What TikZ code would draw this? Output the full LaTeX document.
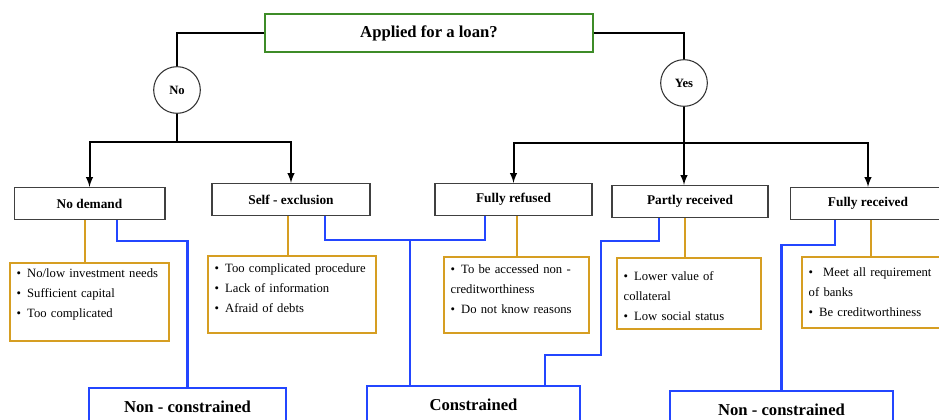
\documentclass[tikz,border=0pt]{standalone}
\usepackage{fontspec}
\setmainfont{Liberation Serif}
\usepackage{tikz}
\definecolor{leaf}{RGB}{62,140,40}
\definecolor{ocre}{RGB}{214,158,34}
\definecolor{azur}{RGB}{35,70,255}
\tikzset{
  question/.style={draw=leaf,line width=1.3pt,minimum width=246pt,minimum height=29pt,font=\fontsize{12.5}{15}\selectfont\bfseries},
  answer/.style={draw=black!80,circle,thick,minimum size=35pt,inner sep=0pt,font=\fontsize{9.5}{11}\selectfont\bfseries},
  group/.style={draw=black!75,line width=1pt,minimum height=24pt,font=\fontsize{10}{12}\selectfont\bfseries},
  reason/.style={draw=ocre,line width=1.6pt,anchor=north west,align=left,inner xsep=5pt,inner ysep=0pt,font=\fontsize{9.5}{15}\selectfont},
  outcome/.style={draw=azur,line width=1.8pt,anchor=north,minimum height=28pt,font=\fontsize{12.5}{15}\selectfont\bfseries},
  branch/.style={line width=1.5pt},
  oline/.style={draw=ocre,line width=1.4pt},
  bline/.style={draw=azur,line width=1.6pt}
}
\newcommand{\itm}{\textbullet\hspace{4.5pt}}
\begin{document}
\begin{tikzpicture}[x=0.75pt,y=-0.75pt]
\useasboundingbox (0,0) rectangle (939,420);
% question and answers
\node[question] (loan) at (429,33) {Applied for a loan?};
\node[answer] (no) at (177,90) {No};
\node[answer] (yes) at (684,83) {Yes};
% groups
\node[group,minimum width=113pt] (nodem) at (89.5,203.5) {No demand};
\node[group,minimum width=118.5pt] (selfex) at (291,199.5) {Self - exclusion};
\node[group,minimum width=117.75pt] (refused) at (513.5,199.5) {Fully refused};
\node[group,minimum width=117pt] (partly) at (690,201.5) {Partly received};
\node[group,minimum width=116pt] (fullrec) at (868,203.5) {Fully received};
% reasons
\node[reason,text width=109pt,text height=10.5pt,text depth=48pt] (r1) at (9,262)
  {\itm No/low investment needs\\ \itm Sufficient capital\\ \itm Too complicated};
\node[reason,text width=116pt,text height=12pt,text depth=45.75pt] (r2) at (207,255)
  {\itm Too complicated procedure\\ \itm Lack of information\\ \itm Afraid of debts};
\node[reason,text width=98.75pt,text height=12pt,text depth=45pt] (r3) at (443,256)
  {\itm To be accessed non -\\ creditworthiness\\ \itm Do not know reasons};
\node[reason,text width=98pt,text height=16.5pt,text depth=36.75pt] (r4) at (616,257)
  {\itm Lower value of\\ collateral\\ \itm Low social status};
\node[reason,text width=103pt,text height=14.25pt,text depth=39pt] (r5) at (801,256)
  {\itm\hspace{3pt}Meet all requirement\\ of banks\\ \itm Be creditworthiness};
% outcomes
\node[outcome,minimum width=147.75pt] (nc1) at (187.5,387) {Non - constrained};
\node[outcome,minimum width=159.75pt] (cons) at (473.5,385) {Constrained};
\node[outcome,minimum width=167.25pt] (nc2) at (781.5,390) {Non - constrained};
% tree
\draw[branch] (loan.west) -| (no);
\draw[branch] (loan.east) -| (yes);
\draw[branch] (no) -- ++(0,52) coordinate (nob);
\draw[branch,->,>=latex] (nob) -| (nodem.north);
\draw[branch,->,>=latex] (nob) -| (selfex.north);
\draw[branch] (yes) -- ++(0,60) coordinate (yesb);
\draw[branch,->,>=latex] (yesb) -| (refused.north);
\draw[branch,->,>=latex] (yes) -- (partly.north -| yes);
\draw[branch,->,>=latex] (yesb) -| (fullrec.north);
% reasons links
\draw[oline] (nodem.south -| 85,0) -- (r1.north -| 85,0);
\draw[oline] (selfex.south -| 288,0) -- (r2.north -| 288,0);
\draw[oline] (refused.south -| 517,0) -- (r3.north -| 517,0);
\draw[oline] (partly.south -| 685,0) -- (r4.north -| 685,0);
\draw[oline] (fullrec.south -| 871,0) -- (r5.north -| 871,0);
% outcome links
\draw[bline] (nodem.south -| 117,0) |- (187.5,241) -- (nc1.north);
\coordinate (cj) at (410,240);
\draw[bline] (selfex.south -| 325,0) |- (cj) -| (refused.south -| 485,0);
\draw[bline] (cj) -- (cons.north -| cj);
\draw[bline] (partly.south -| 659,0) |- (601,241) |- (545,355) -- (cons.north -| 545,0);
\draw[bline] (fullrec.south -| 835,0) |- (781.5,245) -- (nc2.north);
\end{tikzpicture}
\end{document}
